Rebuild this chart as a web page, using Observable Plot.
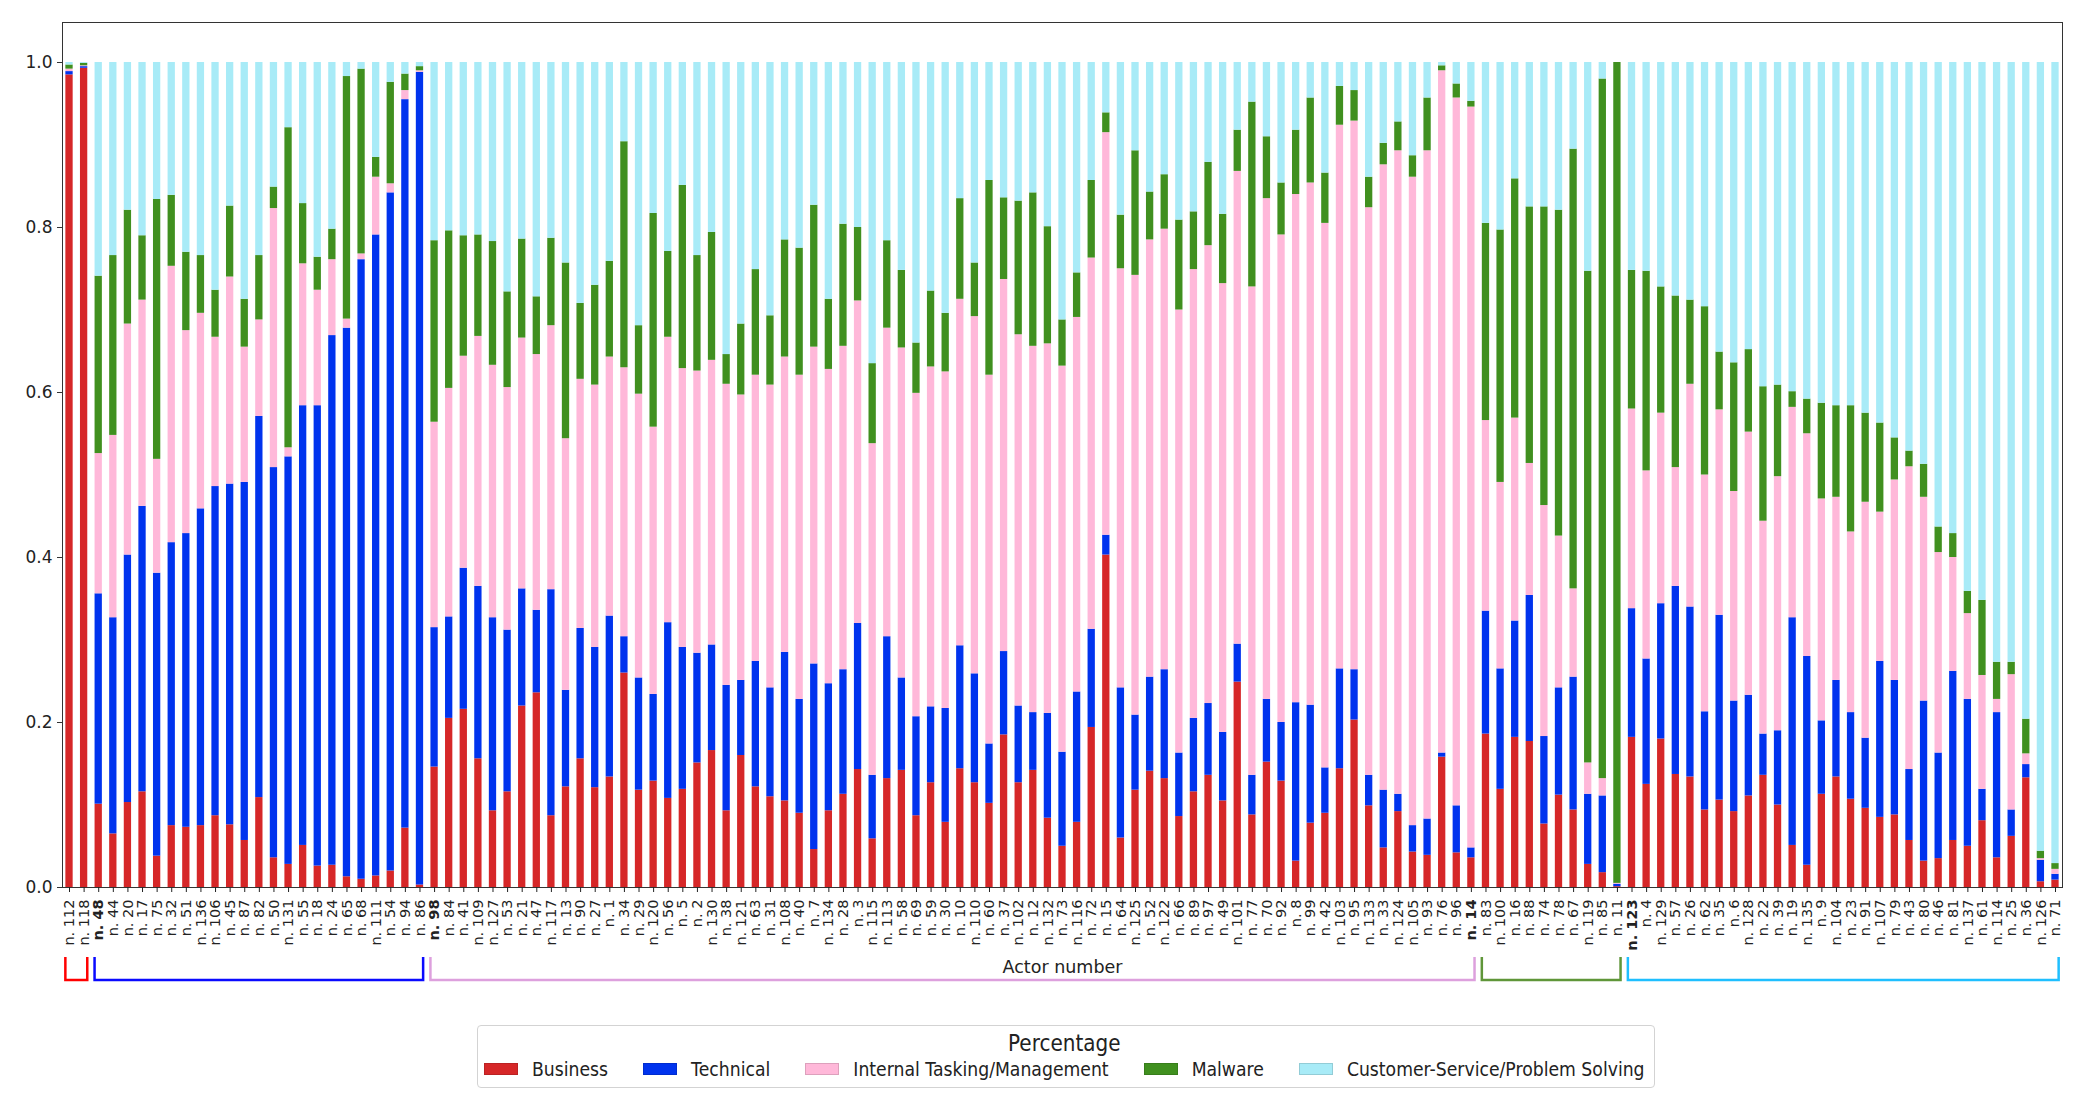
<!DOCTYPE html>
<html>
<head>
<meta charset="utf-8">
<script src="https://cdn.jsdelivr.net/npm/d3@7"></script>
<script src="https://cdn.jsdelivr.net/npm/@observablehq/plot@0.6"></script>
<style>
  html, body { margin: 0; padding: 0; background: #fff; }
  #wrap { position: relative; width: 2078px; height: 1114px; font-family: "DejaVu Sans", sans-serif; color: #222; }
  #legend { position: absolute; left: 477px; top: 1025px; border: 1px solid #d3d3d3; border-radius: 4px;
            padding: 4px 9px 8px 6px; background: #fff; box-sizing: border-box; }
  #legend .title { text-align: center; font-size: 20px; line-height: 26px; margin-bottom: 3px; }
  #legend .title span { display: inline-block; transform: scaleY(1.15); }
  #legend .items { display: flex; align-items: center; gap: 35px; font-size: 17.25px; white-space: nowrap; }
  #legend .item { display: flex; align-items: center; gap: 14px; }
  #legend .item span { display: inline-block; transform: scaleY(1.15); }
  #legend .sw { width: 34px; height: 12px; box-sizing: border-box; }
</style>
</head>
<body>
<div id="wrap"><div id="chart"></div><div id="legend"></div></div>
<script>
const actors = ["n. 112","n. 118","n. 48","n. 44","n. 20","n. 17","n. 75","n. 32","n. 51","n. 136",
"n. 106","n. 45","n. 87","n. 82","n. 50","n. 131","n. 55","n. 18","n. 24","n. 65",
"n. 68","n. 111","n. 54","n. 94","n. 86","n. 98","n. 84","n. 41","n. 109","n. 127",
"n. 53","n. 21","n. 47","n. 117","n. 13","n. 90","n. 27","n. 1","n. 34","n. 29",
"n. 120","n. 56","n. 5","n. 2","n. 130","n. 38","n. 121","n. 63","n. 31","n. 108",
"n. 40","n. 7","n. 134","n. 28","n. 3","n. 115","n. 113","n. 58","n. 69","n. 59",
"n. 30","n. 10","n. 110","n. 60","n. 37","n. 102","n. 12","n. 132","n. 73","n. 116",
"n. 72","n. 15","n. 64","n. 125","n. 52","n. 122","n. 66","n. 89","n. 97","n. 49",
"n. 101","n. 77","n. 70","n. 92","n. 8","n. 99","n. 42","n. 103","n. 95","n. 133",
"n. 33","n. 124","n. 105","n. 93","n. 76","n. 96","n. 14","n. 83","n. 100","n. 16",
"n. 88","n. 74","n. 78","n. 67","n. 119","n. 85","n. 11","n. 123","n. 4","n. 129",
"n. 57","n. 26","n. 62","n. 35","n. 6","n. 128","n. 22","n. 39","n. 19","n. 135",
"n. 9","n. 104","n. 23","n. 91","n. 107","n. 79","n. 43","n. 80","n. 46","n. 81",
"n. 137","n. 61","n. 114","n. 25","n. 36","n. 126","n. 71"];

const boldActors = ["n. 48","n. 98","n. 14","n. 123"];

const categories = ["Business","Technical","Internal Tasking/Management","Malware","Customer-Service/Problem Solving"];
const colors = ["#d62728","#0033ee","#ffb8d9","#40901f","#a8ebf7"];

const business = [.985,.993,.101,.065,.103,.116,.038,.075,.073,.075,
.087,.076,.057,.109,.036,.028,.051,.026,.027,.013,
.010,.014,.020,.072,.003,.146,.205,.216,.156,.093,
.116,.220,.236,.087,.122,.156,.121,.134,.260,.118,
.129,.108,.119,.151,.166,.093,.160,.122,.110,.105,
.090,.046,.093,.113,.143,.059,.132,.142,.087,.127,
.079,.144,.127,.102,.185,.127,.142,.084,.050,.079,
.194,.403,.060,.118,.141,.132,.086,.116,.136,.105,
.249,.088,.152,.129,.032,.078,.090,.144,.203,.099,
.048,.092,.043,.039,.158,.042,.036,.186,.119,.182,
.177,.077,.112,.094,.028,.018,.001,.182,.125,.180,
.137,.134,.094,.106,.092,.111,.136,.100,.051,.027,
.113,.134,.107,.096,.085,.088,.057,.032,.035,.057,
.050,.081,.036,.062,.133,.007,.009];

const technical = [.004,.002,.255,.262,.300,.346,.343,.343,.356,.384,
.399,.413,.434,.462,.473,.494,.533,.558,.642,.665,
.751,.777,.822,.883,.985,.169,.123,.171,.209,.234,
.196,.142,.100,.274,.117,.158,.170,.195,.044,.136,
.105,.213,.172,.133,.128,.152,.091,.152,.132,.180,
.138,.225,.154,.151,.177,.077,.172,.112,.120,.092,
.138,.149,.132,.072,.101,.093,.070,.127,.114,.158,
.119,.024,.182,.091,.114,.132,.077,.089,.087,.083,
.046,.048,.076,.071,.192,.143,.055,.121,.061,.037,
.070,.021,.032,.044,.005,.057,.012,.149,.146,.141,
.177,.106,.130,.161,.085,.093,.003,.156,.152,.164,
.228,.206,.119,.224,.134,.122,.050,.090,.276,.253,
.089,.117,.105,.085,.189,.163,.086,.194,.128,.205,
.178,.038,.176,.032,.016,.026,.007];

const internal = [.003,.001,.170,.221,.280,.250,.138,.335,.246,.237,
.181,.251,.164,.117,.314,.011,.172,.140,.092,.011,
.007,.070,.011,.011,.002,.249,.277,.257,.303,.306,
.294,.304,.310,.320,.305,.302,.318,.314,.326,.344,
.324,.346,.338,.342,.345,.365,.346,.347,.367,.358,
.393,.384,.381,.392,.391,.402,.374,.400,.392,.412,
.408,.420,.433,.447,.451,.450,.444,.448,.468,.454,
.450,.488,.508,.533,.530,.534,.537,.544,.555,.544,
.573,.592,.607,.591,.616,.633,.660,.659,.665,.688,
.758,.780,.786,.810,.827,.858,.898,.231,.226,.246,
.160,.280,.184,.107,.038,.021,.001,.242,.228,.231,
.144,.270,.287,.249,.254,.319,.258,.308,.255,.270,
.269,.222,.219,.286,.181,.243,.367,.247,.243,.138,
.104,.138,.016,.164,.013,.002,.006];

const malware = [.005,.003,.215,.218,.138,.078,.315,.086,.095,.070,
.057,.086,.058,.078,.026,.388,.073,.040,.037,.294,
.224,.024,.123,.020,.005,.220,.191,.146,.123,.150,
.116,.120,.070,.106,.213,.092,.121,.116,.274,.083,
.259,.104,.222,.140,.155,.036,.086,.128,.084,.142,
.154,.172,.085,.148,.089,.097,.106,.094,.061,.092,
.071,.122,.065,.236,.099,.162,.186,.142,.056,.054,
.094,.024,.065,.151,.058,.066,.109,.070,.101,.084,
.050,.224,.075,.063,.078,.103,.061,.047,.037,.037,
.026,.035,.026,.064,.006,.017,.007,.239,.306,.290,
.311,.362,.395,.533,.596,.848,.995,.168,.242,.153,
.208,.102,.204,.070,.156,.100,.163,.111,.019,.042,
.116,.111,.153,.108,.108,.051,.019,.040,.031,.029,
.027,.091,.045,.015,.042,.009,.007];

const customer = [.003,.001,.259,.234,.179,.210,.166,.161,.230,.234,
.276,.174,.287,.234,.151,.079,.171,.236,.202,.017,
.008,.115,.024,.014,.005,.216,.204,.210,.209,.217,
.278,.214,.284,.213,.243,.292,.270,.241,.096,.319,
.183,.229,.149,.234,.206,.354,.317,.251,.307,.215,
.225,.173,.287,.196,.200,.365,.216,.252,.340,.277,
.304,.165,.243,.143,.164,.168,.158,.199,.312,.255,
.143,.061,.185,.107,.157,.136,.191,.181,.121,.184,
.082,.048,.090,.146,.082,.043,.134,.029,.034,.139,
.098,.072,.113,.043,.004,.026,.047,.195,.203,.141,
.175,.175,.179,.105,.253,.020,.000,.252,.253,.272,
.283,.288,.296,.351,.364,.348,.393,.391,.399,.408,
.413,.416,.416,.425,.437,.455,.471,.487,.563,.571,
.641,.652,.727,.727,.796,.956,.971];

const yTicks = [0, 0.2, 0.4, 0.6, 0.8, 1.0];

const groupFirst = ["n. 112","n. 48","n. 98","n. 83","n. 123"];
const groupLast  = ["n. 118","n. 86","n. 14","n. 11","n. 71"];
const groupColors = ["#ff0000","#0a0aff","#dda0dd","#5f9639","#1fbfff"];

const series = [business, technical, internal, malware, customer];
const rows = actors.flatMap((a, i) => categories.map((c, k) => ({actor: a, category: c, value: series[k][i]})));

const plot = Plot.plot({
  width: 2078,
  height: 1010,
  marginLeft: 62,
  marginRight: 16,
  marginTop: 22,
  marginBottom: 123,
  style: {fontFamily: "DejaVu Sans, sans-serif", color: "#222", background: "#fff"},
  x: {domain: actors, paddingInner: 0.5, paddingOuter: 0.23, align: 0.5},
  y: {domain: [0, 1.0485]},
  color: {domain: categories, range: colors},
  marks: [
    Plot.barY(rows, {x: "actor", y: "value", fill: "category"}),
    Plot.frame({stroke: "#333", strokeWidth: 1}),
    Plot.axisY({ticks: yTicks, tickFormat: d3.format(".1f"), tickSize: 5, tickPadding: 5, fontSize: 17, label: null, stroke: "#333"}),
    Plot.axisX({tickSize: 5, tickRotate: -90, tickPadding: 7, fontSize: 14.5, label: null}),
    Plot.text(["Actor number"], {text: d => d, frameAnchor: "bottom", dy: 80, fontSize: 17.5, lineAnchor: "middle", fill: "#222"})
  ]
});

document.getElementById("chart").appendChild(plot);

// bold selected tick labels
d3.select(plot).selectAll('g[aria-label="x-axis tick label"] text').each(function () {
  if (boldActors.includes(this.textContent.trim())) d3.select(this).attr("font-weight", "bold");
});

// group brackets below the axis, positioned with the plot's x scale
const xs = plot.scale("x");
const bottom = 1010 - 123;
const gB = d3.select(plot).append("g").attr("aria-label", "group brackets").attr("fill", "none").attr("stroke-width", 2.5);
groupFirst.forEach((f, i) => {
  const x0 = xs.apply(f);
  const x1 = xs.apply(groupLast[i]) + xs.bandwidth;
  gB.append("path")
    .attr("d", `M${x0},${bottom + 70}V${bottom + 93}H${x1}V${bottom + 70}`)
    .attr("stroke", groupColors[i]);
});

// legend
const lg = d3.select("#legend");
lg.append("div").attr("class", "title").append("span").text("Percentage");
const items = lg.append("div").attr("class", "items");
categories.forEach((c, i) => {
  const it = items.append("div").attr("class", "item");
  it.append("div").attr("class", "sw").style("background", colors[i]).style("border", "1px solid " + d3.color(colors[i]).darker(0.4));
  it.append("span").text(c);
});
</script>
</body>
</html>
